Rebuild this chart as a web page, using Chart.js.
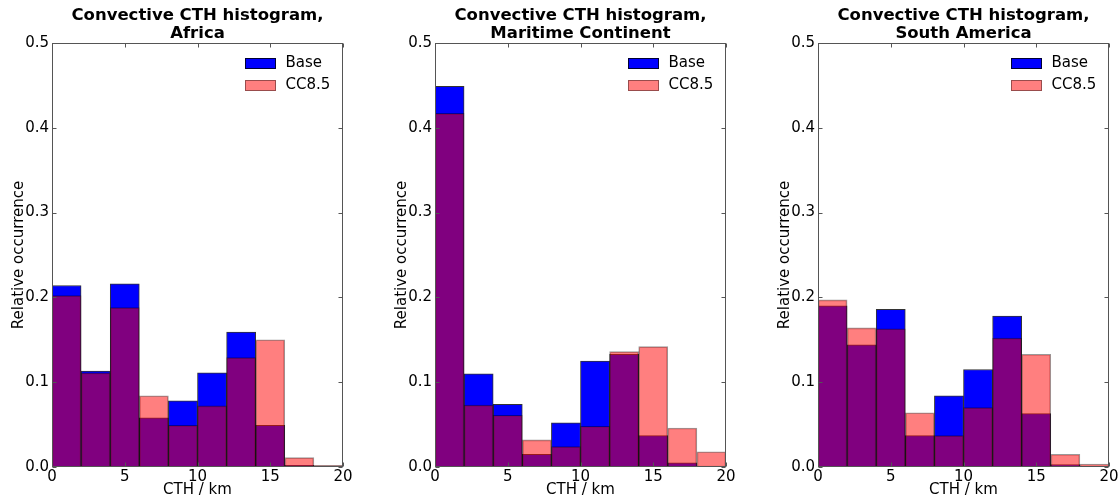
<!DOCTYPE html>
<html>
<head>
<meta charset="utf-8">
<script src="https://cdn.jsdelivr.net/npm/chart.js@4"></script>
<style>
  html, body { margin: 0; padding: 0; background: #fff; overflow: hidden; }
  canvas { position: absolute; top: 0; }
</style>
</head>
<body>
<canvas id="c0" width="354" height="499" style="left:0px"></canvas>
<canvas id="c1" width="354" height="499" style="left:383px"></canvas>
<canvas id="c2" width="354" height="499" style="left:766px"></canvas>
<script>
// bin centres (2 km bins from 0 to 20 km)
const binCenters = [1, 3, 5, 7, 9, 11, 13, 15, 17, 19];
const xTicks = [0, 5, 10, 15, 20];
const yTicks = [0, 0.1, 0.2, 0.3, 0.4, 0.5];
const regions = ['Africa', 'Maritime Continent', 'South America'];
const seriesNames = ['Base', 'CC8.5'];

// relative occurrence
const baseAfrica   = [0.214, 0.113, 0.216, 0.058, 0.078, 0.111, 0.159, 0.049, 0.002, 0.0005];
const ccAfrica     = [0.202, 0.111, 0.188, 0.084, 0.049, 0.072, 0.129, 0.150, 0.011, 0.002];
const baseMaritime = [0.449, 0.110, 0.074, 0.015, 0.052, 0.125, 0.133, 0.037, 0.005, 0.001];
const ccMaritime   = [0.417, 0.073, 0.061, 0.032, 0.024, 0.048, 0.136, 0.142, 0.046, 0.018];
const baseSouthAm  = [0.190, 0.144, 0.186, 0.037, 0.084, 0.115, 0.178, 0.063, 0.003, 0.0005];
const ccSouthAm    = [0.197, 0.164, 0.163, 0.064, 0.037, 0.070, 0.152, 0.133, 0.015, 0.0035];

const panels = [
  { id: 'c0', base: baseAfrica, cc: ccAfrica },
  { id: 'c1', base: baseMaritime, cc: ccMaritime },
  { id: 'c2', base: baseSouthAm, cc: ccSouthAm }
];

const FONT = '"DejaVu Sans", "Liberation Sans", sans-serif';

// axes frame with inward ticks, matplotlib style
const frameTicks = {
  id: 'frameTicks',
  afterDatasetsDraw(chart) {
    const { ctx, chartArea: a, scales } = chart;
    const L = Math.round(a.left) + 0.5, R = Math.round(a.right) - 0.5;
    const T = Math.round(a.top) + 0.5, B = Math.round(a.bottom) - 0.5;
    ctx.save();
    ctx.strokeStyle = '#555';
    ctx.lineWidth = 1;
    ctx.strokeRect(L, T, R - L, B - T);
    ctx.beginPath();
    xTicks.forEach(v => {
      const px = Math.round(scales.x.getPixelForValue(v)) + 0.5;
      ctx.moveTo(px, B); ctx.lineTo(px, B - 4);
      ctx.moveTo(px, T); ctx.lineTo(px, T + 4);
    });
    yTicks.forEach(v => {
      const py = Math.round(scales.y.getPixelForValue(v)) + 0.5;
      ctx.moveTo(L, py); ctx.lineTo(L + 4, py);
      ctx.moveTo(R, py); ctx.lineTo(R - 4, py);
    });
    ctx.stroke();
    ctx.restore();
  }
};

// legend inside the top right corner of the plot
const insideLegend = {
  id: 'insideLegend',
  afterDraw(chart) {
    const { ctx, chartArea: a } = chart;
    ctx.save();
    chart.data.datasets.forEach((ds, i) => {
      const x = Math.round(a.right - 98), y = Math.round(a.top + 15 + i * 22.5);
      ctx.fillStyle = ds.backgroundColor;
      ctx.fillRect(x, y, 31, 11);
      ctx.strokeStyle = ds.borderColor;
      ctx.lineWidth = 1;
      ctx.strokeRect(x + 0.5, y + 0.5, 30, 10);
      ctx.fillStyle = '#000';
      ctx.font = '15px ' + FONT;
      ctx.textBaseline = 'middle';
      ctx.textAlign = 'left';
      ctx.fillText(ds.label, a.right - 57.5, y + 5.5);
    });
    ctx.restore();
  }
};

panels.forEach((p, k) => {
  const ctx = document.getElementById(p.id).getContext('2d');
  new Chart(ctx, {
    type: 'bar',
    data: {
      datasets: [{
        label: seriesNames[0],
        data: binCenters.map((x, i) => ({ x: x, y: p.base[i] })),
        backgroundColor: 'rgb(0,0,255)',
        borderColor: 'rgba(0,0,0,0.8)',
        borderWidth: 1,
        order: 1
      }, {
        label: seriesNames[1],
        data: binCenters.map((x, i) => ({ x: x, y: p.cc[i] })),
        backgroundColor: 'rgba(255,0,0,0.5)',
        borderColor: 'rgba(0,0,0,0.4)',
        borderWidth: 1,
        order: 0
      }]
    },
    options: {
      responsive: false,
      animation: false,
      grouped: false,
      barPercentage: 1,
      categoryPercentage: 1,
      layout: { padding: { left: 0, right: 11, top: 0, bottom: 0 } },
      plugins: {
        legend: { display: false },
        tooltip: { enabled: false },
        title: {
          display: true,
          fullSize: false, // centre over the plot, not the canvas
          text: ['Convective CTH histogram,', regions[k]],
          color: '#000',
          font: { family: FONT, size: 16.5, weight: 'bold', lineHeight: 1.12 },
          padding: { top: 6, bottom: 0 }
        }
      },
      scales: {
        x: {
          type: 'linear',
          offset: false,
          min: 0, max: 20,
          grid: { display: false, drawTicks: false },
          border: { display: false },
          afterBuildTicks: s => { s.ticks = xTicks.map(v => ({ value: v })); },
          afterFit: s => { s.height = 32; },
          ticks: {
            color: '#000',
            padding: 1,
            maxRotation: 0,
            font: { family: FONT, size: 15 },
            callback: v => String(v)
          },
          title: {
            display: true,
            text: 'CTH / km',
            color: '#000',
            font: { family: FONT, size: 15 },
            padding: { top: 0, bottom: 0 }
          }
        },
        y: {
          min: 0, max: 0.5,
          grid: { display: false, drawTicks: false },
          border: { display: false },
          afterBuildTicks: s => { s.ticks = yTicks.map(v => ({ value: v })); },
          afterFit: s => { s.width = 52; },
          ticks: {
            color: '#000',
            padding: 3,
            font: { family: FONT, size: 15 },
            callback: v => Number(v).toFixed(1)
          },
          title: {
            display: true,
            text: 'Relative occurrence',
            color: '#000',
            font: { family: FONT, size: 15 },
            padding: { top: 10, bottom: 0 }
          }
        }
      }
    },
    plugins: [frameTicks, insideLegend]
  });
});
</script>
</body>
</html>
